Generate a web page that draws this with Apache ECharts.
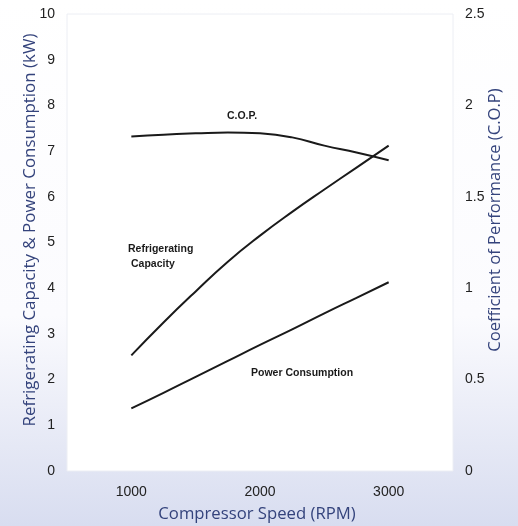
<!DOCTYPE html>
<html>
<head>
<meta charset="utf-8">
<script src="https://cdn.jsdelivr.net/npm/echarts@6/dist/echarts.min.js"></script>
<style>
html,body{margin:0;padding:0;background:#fff;}
#chart{width:518px;height:526px;}
</style>
</head>
<body>
<div id="chart"></div>
<script>
// Data
var rpm = [1000, 1250, 1500, 1750, 2000, 2250, 2500, 2750, 3000];
var refrigeratingCapacity = [2.53, 3.25, 3.93, 4.58, 5.15, 5.67, 6.16, 6.64, 7.12];
var powerConsumption = [1.37, 1.71, 2.06, 2.41, 2.76, 3.10, 3.45, 3.79, 4.13];
var cop = [1.83, 1.84, 1.847, 1.852, 1.847, 1.825, 1.78, 1.742, 1.70];
var xTickLabels = [1000, 2000, 3000];

function pairs(xs, ys) { return xs.map(function (x, i) { return [x, ys[i]]; }); }

var navy = '#34437c';
var tickColor = '#222';
var lineStyle = { color: '#1a1a1a', width: 2 };
var tickFont = 'Liberation Sans, Arial, sans-serif';
var noteFont = 'bold 10.5px "Liberation Sans", Arial, sans-serif';

var chart = echarts.init(document.getElementById('chart'), null, { renderer: 'canvas' });
chart.setOption({
  backgroundColor: {
    type: 'linear', x: 0, y: 0, x2: 0, y2: 1,
    colorStops: [
      { offset: 0, color: '#ffffff' },
      { offset: 0.6, color: '#fbfbfe' },
      { offset: 0.85, color: '#e5e8f5' },
      { offset: 1, color: '#d8ddf0' }
    ]
  },
  animation: false,
  grid: {
    left: 67, right: 65, top: 14, bottom: 55,
    show: true, backgroundColor: '#ffffff', borderColor: '#eceef4', borderWidth: 1
  },
  xAxis: {
    type: 'value', min: 500, max: 3500, interval: 500,
    axisLine: { show: false }, axisTick: { show: false }, splitLine: { show: false },
    axisLabel: {
      margin: 14, color: tickColor, fontSize: 14, fontFamily: tickFont,
      formatter: function (v) { return xTickLabels.indexOf(v) >= 0 ? String(v) : ''; }
    }
  },
  yAxis: [
    {
      type: 'value', min: 0, max: 10, interval: 1,
      axisLine: { show: false }, axisTick: { show: false }, splitLine: { show: false },
      axisLabel: { margin: 12, color: tickColor, fontSize: 14, fontFamily: tickFont }
    },
    {
      type: 'value', min: 0, max: 2.5, interval: 0.5, position: 'right',
      axisLine: { show: false }, axisTick: { show: false }, splitLine: { show: false },
      axisLabel: { margin: 12, color: tickColor, fontSize: 14, fontFamily: tickFont }
    }
  ],
  series: [
    { name: 'Refrigerating Capacity', type: 'line', smooth: true, showSymbol: false,
      lineStyle: lineStyle, data: pairs(rpm, refrigeratingCapacity), yAxisIndex: 0 },
    { name: 'Power Consumption', type: 'line', smooth: true, showSymbol: false,
      lineStyle: lineStyle, data: pairs(rpm, powerConsumption), yAxisIndex: 0 },
    { name: 'C.O.P.', type: 'line', smooth: true, showSymbol: false,
      lineStyle: lineStyle, data: pairs(rpm, cop), yAxisIndex: 1 }
  ],
  graphic: [
    { type: 'text', x: 242, y: 116, style: { text: 'C.O.P.', fill: '#1a1a1a', font: noteFont, align: 'center', verticalAlign: 'middle' } },
    { type: 'text', x: 128, y: 249, style: { text: 'Refrigerating', fill: '#1a1a1a', font: noteFont, align: 'left', verticalAlign: 'middle' } },
    { type: 'text', x: 131, y: 264, style: { text: 'Capacity', fill: '#1a1a1a', font: noteFont, align: 'left', verticalAlign: 'middle' } },
    { type: 'text', x: 251, y: 373, style: { text: 'Power Consumption', fill: '#1a1a1a', font: noteFont, align: 'left', verticalAlign: 'middle' } },
    { type: 'text', x: 257, y: 514, style: { text: 'Compressor Speed (RPM)', fill: navy, font: '16.7px "Open Sans", sans-serif', align: 'center', verticalAlign: 'middle' } },
    { type: 'text', x: 30, y: 230, rotation: Math.PI / 2, style: { text: 'Refrigerating Capacity & Power Consumption (kW)', fill: navy, font: '16.9px "Open Sans", sans-serif', align: 'center', verticalAlign: 'middle' } },
    { type: 'text', x: 495, y: 220, rotation: Math.PI / 2, style: { text: 'Coefficient of Performance (C.O.P)', fill: navy, font: '16.6px "Open Sans", sans-serif', align: 'center', verticalAlign: 'middle' } }
  ]
});
</script>
</body>
</html>
